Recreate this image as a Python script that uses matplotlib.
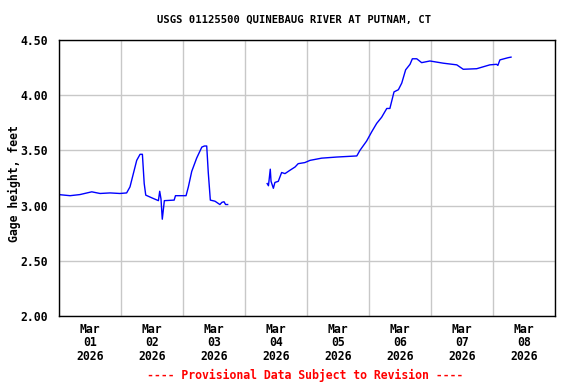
import numpy as np
import pandas as pd
import matplotlib
matplotlib.use("Agg")
import matplotlib.pyplot as plt

# hours since 2026-03-01 00:00, gage height in feet
hrs1 = [0, 4.4, 8.2, 12.8, 16, 19.9, 23.7, 26.3, 27.6, 28.9, 30.2, 31.5, 32.4, 33.1,
        33.7, 36.1, 38.6, 39.1, 39.6, 40.1, 40.9, 44.7, 45.2, 49.3, 50.2, 51.5, 53.4,
        55.4, 56.4, 57.3, 57.9, 58.7, 60.5, 62.4, 63.2, 64.0, 64.6, 65.4]
gage1 = [3.10, 3.09, 3.10, 3.125, 3.11, 3.115, 3.11, 3.115, 3.17, 3.29, 3.41, 3.465,
         3.465, 3.20, 3.095, 3.07, 3.045, 3.13, 3.06, 2.877, 3.045, 3.05, 3.09, 3.09,
         3.17, 3.31, 3.43, 3.53, 3.54, 3.54, 3.30, 3.05, 3.04, 3.01, 3.03, 3.035,
         3.01, 3.01]

hrs2 = [80.7, 81.2, 81.9, 82.2, 83.1, 83.7, 85.0, 86.3, 87.6, 89.5, 91.5, 92.7, 95.3,
        97.3, 101.8, 107.6, 115.4, 116.6, 119.2, 121.2, 123.1, 125.0, 127.0, 128.2,
        129.8, 131.5, 132.8, 134.3, 136.0, 136.9, 138.6, 140.5, 143.7, 148.9, 154.1,
        156.6, 161.8, 166.9, 169.5, 170.0, 170.8, 174.0, 175.1]
gage2 = [3.20, 3.18, 3.33, 3.22, 3.157, 3.21, 3.22, 3.30, 3.29, 3.32, 3.35, 3.38, 3.39,
         3.41, 3.43, 3.44, 3.45, 3.50, 3.585, 3.67, 3.745, 3.80, 3.88, 3.88, 4.03,
         4.05, 4.11, 4.23, 4.28, 4.33, 4.33, 4.295, 4.31, 4.29, 4.275, 4.235, 4.24,
         4.275, 4.28, 4.27, 4.32, 4.34, 4.345]

start = pd.Timestamp("2026-03-01")
t1 = start + pd.to_timedelta(hrs1, unit="h")
t2 = start + pd.to_timedelta(hrs2, unit="h")

mono = "DejaVu Sans Mono"
fs = 7.6   # title
fs2 = 8.3  # tick labels, footnote

fig = plt.figure(figsize=(5.76, 3.84), dpi=100)
ax = fig.add_axes([0.1019, 0.177, 0.8611, 0.7188])

ax.plot(t1, gage1, color="#0000ff", lw=1)
ax.plot(t2, gage2, color="#0000ff", lw=1)

ax.set_xlim(start, start + pd.Timedelta(days=8))
ax.set_ylim(2.0, 4.5)

days = pd.date_range(start, periods=9, freq="D")
ax.set_xticks(days)
ax.set_xticklabels([])
noons = days[:8] + pd.Timedelta(hours=12)
ax.set_xticks(noons, minor=True)
ax.set_xticklabels([d.strftime("Mar\n%d\n%Y") for d in noons], minor=True,
                   fontfamily=mono, fontweight="bold", fontsize=fs2, linespacing=1.05)
ax.tick_params(axis="x", which="both", length=0, pad=5)

yt = np.arange(2.0, 4.51, 0.5)
ax.set_yticks(yt)
ax.set_yticklabels(["%.2f" % v for v in yt], fontfamily=mono, fontweight="bold",
                   fontsize=fs2)
ax.tick_params(axis="y", length=0, pad=8)

ax.grid(True, which="major", color="#c8c8c8", lw=1)
for s in ax.spines.values():
    s.set_linewidth(1)

ax.set_ylabel("Gage height, feet", fontfamily=mono, fontweight="bold", fontsize=fs2)
ax.yaxis.set_label_coords(-0.077, 0.48)
fig.text(0.51, 0.948, "USGS 01125500 QUINEBAUG RIVER AT PUTNAM, CT", ha="center",
         va="center", fontfamily=mono, fontweight="bold", fontsize=fs)
fig.text(0.53, 0.023, "---- Provisional Data Subject to Revision ----", ha="center",
         va="center", color="red", fontfamily=mono, fontweight="bold", fontsize=fs2)

fig.savefig("out.png", dpi=100)
